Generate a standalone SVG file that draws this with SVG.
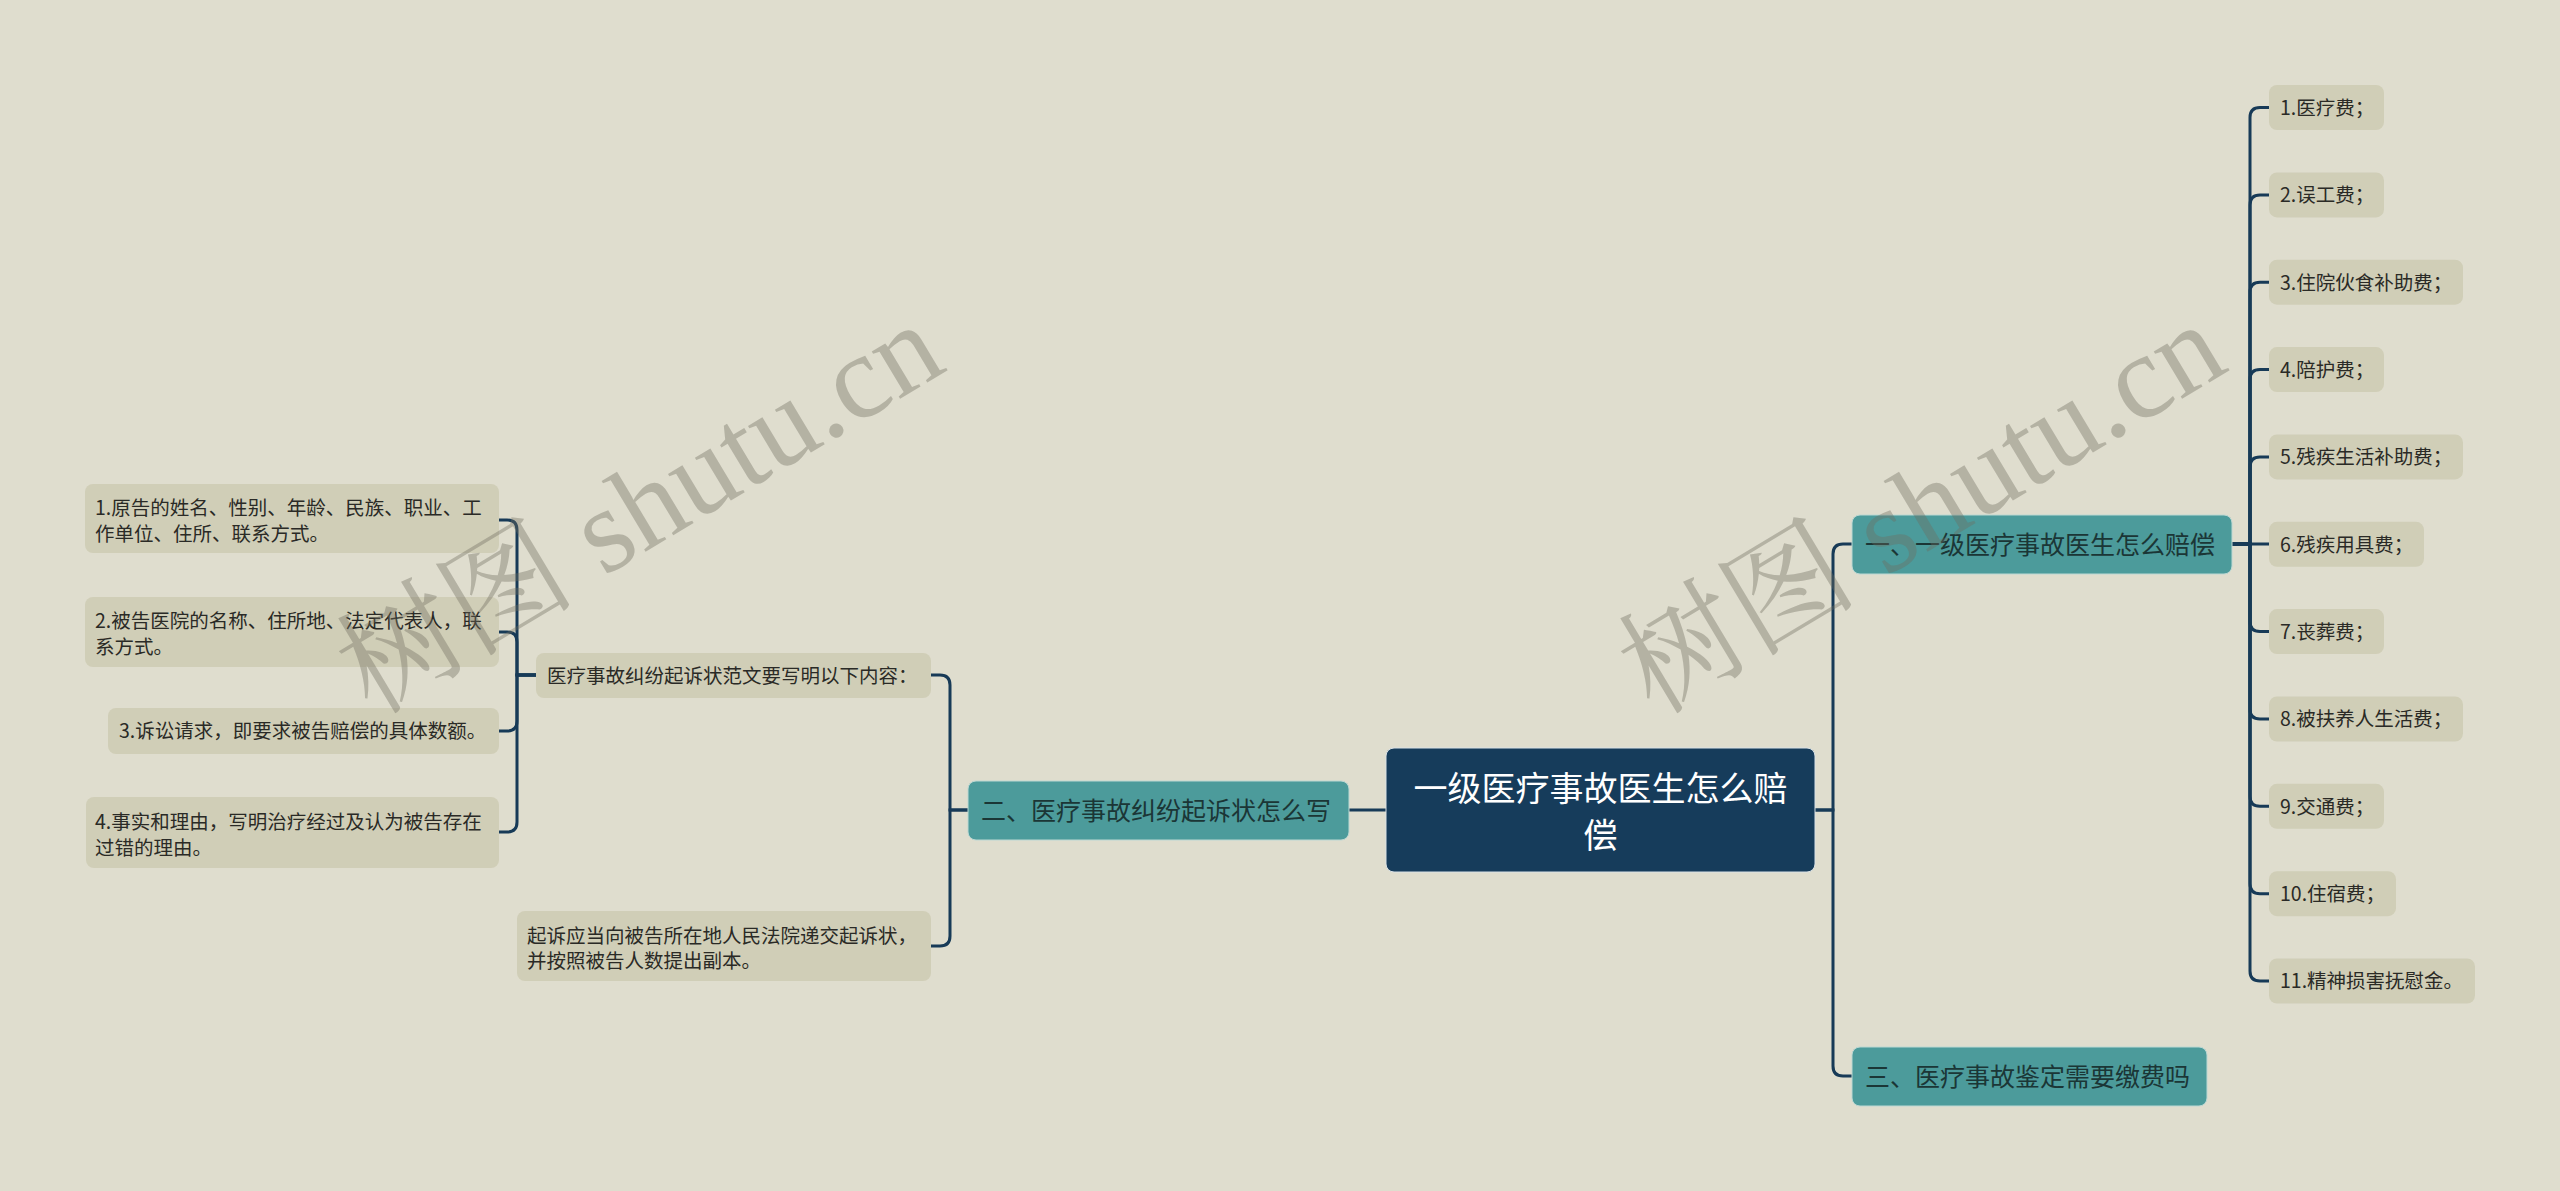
<svg xmlns="http://www.w3.org/2000/svg" width="2560" height="1191" viewBox="0 0 2560 1191">
<style>
.bg{fill:#dfddce}
.leaf{fill:#d0ceb7}
.teal{fill:#4c9b9b;stroke:#bcd8d3;stroke-width:1}
.root{fill:#163c5b;stroke:#d9e1e6;stroke-width:1}
.t{font-family:"Noto Sans CJK SC","Noto Sans",sans-serif}
.lt{font-size:19.5px;fill:#2a2a26}
.tt{font-size:25px;fill:#1b3636}
.rt{font-size:34px;fill:#ffffff}
.conn path{fill:none;stroke:#173a57;stroke-width:3;stroke-linecap:round}
.wm{font-family:"Liberation Serif","Noto Serif CJK SC","Noto Sans CJK SC",serif;font-size:120px;fill:#6f6d5f;fill-opacity:0.38}
</style>
<rect class="bg" x="0" y="0" width="2560" height="1191"/>

<g id="connectors" class="conn">
  <path d="M1815,810 H1833 V554 Q1833,544 1843,544 H1852"/>
  <path d="M1815,810 H1833 V1066 Q1833,1076 1843,1076 H1852"/>
  <path d="M1386,810 H1349"/>
  <path d="M968,810 H950 V685 Q950,675 940,675 H931"/>
  <path d="M968,810 H950 V936 Q950,946 940,946 H931"/>
  <path d="M536,675 H517 V530 Q517,520 507,520 H499"/>
  <path d="M536,675 H517 V642 Q517,632 507,632 H499"/>
  <path d="M536,675 H517 V721 Q517,731 507,731 H499"/>
  <path d="M536,675 H517 V822 Q517,832 507,832 H499"/>
  <path d="M2232,544 H2250 V117.5 Q2250,107.5 2260,107.5 H2269"/>
  <path d="M2232,544 H2250 V204.9 Q2250,194.9 2260,194.9 H2269"/>
  <path d="M2232,544 H2250 V292.2 Q2250,282.2 2260,282.2 H2269"/>
  <path d="M2232,544 H2250 V379.6 Q2250,369.6 2260,369.6 H2269"/>
  <path d="M2232,544 H2250 V466.9 Q2250,456.9 2260,456.9 H2269"/>
  <path d="M2232,544 H2269"/>
  <path d="M2232,544 H2250 V621.6 Q2250,631.6 2260,631.6 H2269"/>
  <path d="M2232,544 H2250 V709 Q2250,719 2260,719 H2269"/>
  <path d="M2232,544 H2250 V796.3 Q2250,806.3 2260,806.3 H2269"/>
  <path d="M2232,544 H2250 V883.7 Q2250,893.7 2260,893.7 H2269"/>
  <path d="M2232,544 H2250 V971 Q2250,981 2260,981 H2269"/>
</g>

<g id="root">
  <rect class="root" x="1386" y="748" width="429" height="124" rx="8"/>
  <text class="t rt" x="1600.5" y="801" text-anchor="middle">一级医疗事故医生怎么赔</text>
  <text class="t rt" x="1600.5" y="848" text-anchor="middle">偿</text>
</g>

<g id="n1">
  <rect class="teal" x="1852" y="515" width="380" height="59" rx="8"/>
  <text class="t tt" x="1865" y="553.5">一、一级医疗事故医生怎么赔偿</text>
</g>
<g id="n3">
  <rect class="teal" x="1852" y="1047" width="355" height="59" rx="8"/>
  <text class="t tt" x="1865" y="1085.5">三、医疗事故鉴定需要缴费吗</text>
</g>
<g id="n2">
  <rect class="teal" x="968" y="781" width="381" height="59" rx="8"/>
  <text class="t tt" x="981" y="819.5">二、医疗事故纠纷起诉状怎么写</text>
</g>

<g id="r1"><rect class="leaf" x="2269" y="85" width="115" height="45" rx="8"/><text class="t lt" x="2280" y="114.9">1.医疗费；</text></g>
<g id="r2"><rect class="leaf" x="2269" y="172.4" width="115" height="45" rx="8"/><text class="t lt" x="2280" y="202.3">2.误工费；</text></g>
<g id="r3"><rect class="leaf" x="2269" y="259.7" width="194" height="45" rx="8"/><text class="t lt" x="2280" y="289.6">3.住院伙食补助费；</text></g>
<g id="r4"><rect class="leaf" x="2269" y="347.1" width="115" height="45" rx="8"/><text class="t lt" x="2280" y="377">4.陪护费；</text></g>
<g id="r5"><rect class="leaf" x="2269" y="434.4" width="194" height="45" rx="8"/><text class="t lt" x="2280" y="464.3">5.残疾生活补助费；</text></g>
<g id="r6"><rect class="leaf" x="2269" y="521.8" width="155" height="45" rx="8"/><text class="t lt" x="2280" y="551.7">6.残疾用具费；</text></g>
<g id="r7"><rect class="leaf" x="2269" y="609.1" width="115" height="45" rx="8"/><text class="t lt" x="2280" y="639">7.丧葬费；</text></g>
<g id="r8"><rect class="leaf" x="2269" y="696.5" width="194" height="45" rx="8"/><text class="t lt" x="2280" y="726.4">8.被扶养人生活费；</text></g>
<g id="r9"><rect class="leaf" x="2269" y="783.8" width="115" height="45" rx="8"/><text class="t lt" x="2280" y="813.7">9.交通费；</text></g>
<g id="r10"><rect class="leaf" x="2269" y="871.2" width="127" height="45" rx="8"/><text class="t lt" x="2280" y="901.1">10.住宿费；</text></g>
<g id="r11"><rect class="leaf" x="2269" y="958.5" width="206" height="45" rx="8"/><text class="t lt" x="2280" y="988.4">11.精神损害抚慰金。</text></g>

<g id="m1">
  <rect class="leaf" x="536" y="653" width="395" height="45" rx="8"/>
  <text class="t lt" x="547" y="683">医疗事故纠纷起诉状范文要写明以下内容：</text>
</g>
<g id="m2">
  <rect class="leaf" x="517" y="911" width="414" height="70" rx="8"/>
  <text class="t lt" x="527" y="942.5">起诉应当向被告所在地人民法院递交起诉状，</text>
  <text class="t lt" x="527" y="968">并按照被告人数提出副本。</text>
</g>

<g id="l1">
  <rect class="leaf" x="85" y="484" width="414" height="69" rx="8"/>
  <text class="t lt" x="95" y="514.5">1.原告的姓名、性别、年龄、民族、职业、工</text>
  <text class="t lt" x="95" y="540.5">作单位、住所、联系方式。</text>
</g>
<g id="l2">
  <rect class="leaf" x="85" y="597" width="414" height="70" rx="8"/>
  <text class="t lt" x="95" y="627.5">2.被告医院的名称、住所地、法定代表人，联</text>
  <text class="t lt" x="95" y="653.5">系方式。</text>
</g>
<g id="l3">
  <rect class="leaf" x="108" y="708" width="391" height="46" rx="8"/>
  <text class="t lt" x="119" y="738">3.诉讼请求，即要求被告赔偿的具体数额。</text>
</g>
<g id="l4">
  <rect class="leaf" x="86" y="797" width="413" height="71" rx="8"/>
  <text class="t lt" x="95" y="828.5">4.事实和理由，写明治疗经过及认为被告存在</text>
  <text class="t lt" x="95" y="854.5">过错的理由。</text>
</g>

<g id="watermarks">
  <text class="wm" transform="translate(372,716) rotate(-31)">树图 shutu.cn</text>
  <text class="wm" transform="translate(1654,716) rotate(-31)">树图 shutu.cn</text>
</g>
</svg>
